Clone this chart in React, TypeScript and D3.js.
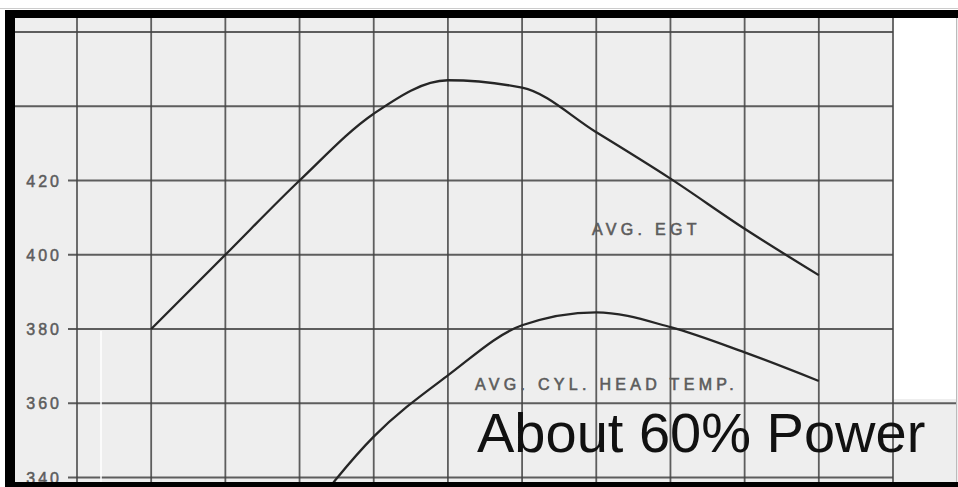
import React from "react";
import * as d3 from "d3";

// x positions are grid columns (no x labels on the original scan)
const egtCols = [1, 2, 3, 4, 5, 6, 7, 8, 9, 10];
const egtValues = [380, 400, 420, 438, 447, 445, 433, 420.5, 407, 394.5];

const chtCols = [3, 4, 5, 6, 7, 8, 9, 10];
const chtValues = [327, 351, 367.5, 381, 384.5, 380.5, 373.7, 366];

const yTicks = [340, 360, 380, 400, 420, 440, 460];
const yLabels = [340, 360, 380, 400, 420];
const xCols = [0, 1, 2, 3, 4, 5, 6, 7, 8, 9, 10, 11];

const W = 958;
const H = 487;

const App: React.FC = () => {
  const x = d3.scaleLinear().domain([0, 11]).range([77, 893]);
  const y = d3.scaleLinear().domain([340, 460]).range([477.5, 32]);

  const line = d3
    .line<[number, number]>()
    .x((d) => x(d[0]))
    .y((d) => y(d[1]))
    .curve(d3.curveMonotoneX);

  const egt = egtCols.map((c, i) => [c, egtValues[i]] as [number, number]);
  const cht = chtCols.map((c, i) => [c, chtValues[i]] as [number, number]);

  const gridColor = "#444444";
  const labelColor = "#5c5c5c";

  return (
    <svg
      width={W}
      height={H}
      style={{ position: "absolute", left: 0, top: 0, display: "block" }}
      fontFamily="'Liberation Sans', Arial, sans-serif"
    >
      <defs>
        <clipPath id="plot">
          <rect x={15} y={18} width={943} height={464} />
        </clipPath>
      </defs>
      <rect x={0} y={0} width={W} height={H} fill="#ffffff" />
      {/* paper */}
      <rect x={15} y={18} width={943} height={464} fill="#eeeeee" />
      {/* blank strip on the right */}
      <rect x={894} y={18} width={62} height={381} fill="#ffffff" />
      <line x1={956.5} x2={956.5} y1={18} y2={482} stroke="#bbbbbb" strokeWidth={1} />

      <g clipPath="url(#plot)">
        {/* vertical grid */}
        {xCols.map((c) => (
          <line
            key={"v" + c}
            x1={x(c)}
            x2={x(c)}
            y1={18}
            y2={482}
            stroke={gridColor}
            strokeWidth={1.8}
            opacity={0.85}
          />
        ))}
        {/* horizontal grid */}
        {yTicks.map((t) => (
          <line
            key={"h" + t}
            x1={t >= 440 ? 15 : 68}
            x2={t === 360 ? 956 : 893}
            y1={y(t)}
            y2={y(t)}
            stroke={gridColor}
            strokeWidth={1.8}
            opacity={0.85}
          />
        ))}
        {/* scan artefact */}
        <line x1={101} x2={101} y1={y(380) + 2} y2={482} stroke="#ffffff" strokeWidth={1.5} />

        <path d={line(egt) || ""} fill="none" stroke="#262626" strokeWidth={2.3} />
        <path d={line(cht) || ""} fill="none" stroke="#262626" strokeWidth={2.3} />
      </g>

      {yLabels.map((t) => (
        <text
          key={"l" + t}
          x={62}
          y={y(t) + 6}
          textAnchor="end"
          fontSize={16}
          letterSpacing={3}
          fill={labelColor}
          stroke={labelColor}
          strokeWidth={0.5}
        >
          {t}
        </text>
      ))}

      <text x={592} y={235} fontSize={16} letterSpacing={4.3} fill={labelColor} stroke={labelColor} strokeWidth={0.6}>
        AVG. EGT
      </text>
      <text x={475} y={390} fontSize={16} letterSpacing={4.3} fill={labelColor} stroke={labelColor} strokeWidth={0.6}>
        AVG. CYL. HEAD TEMP.
      </text>
      <text x={477} y={452} fontSize={56} fill="#111111">
        About 60% Power
      </text>

      {/* frame */}
      <rect x={5} y={10} width={10} height={477} fill="#000000" />
      <rect x={5} y={10} width={953} height={8} fill="#000000" />
      <rect x={5} y={482} width={953} height={5} fill="#000000" />
      <line x1={0} x2={W} y1={8.5} y2={8.5} stroke="#cccccc" strokeWidth={1} />
    </svg>
  );
};

export default App;
